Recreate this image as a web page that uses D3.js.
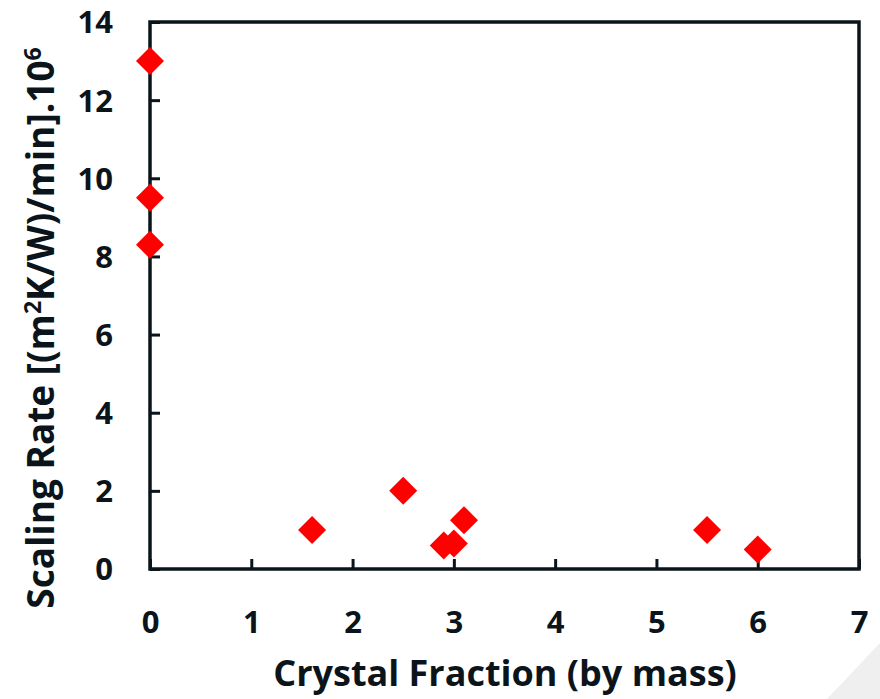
<!DOCTYPE html>
<html>
<head>
<meta charset="utf-8">
<script src="https://cdn.jsdelivr.net/npm/d3@7"></script>
<style>
  html, body { margin: 0; padding: 0; background: #fff; }
  svg text { font-family: "Open Sans", Lato, sans-serif; font-weight: 700; fill: #0b141a; }
</style>
</head>
<body>
<div class="chart"></div>
<script>
// datos
const crystalFraction = [0, 0, 0, 1.6, 2.5, 2.9, 3.0, 3.1, 5.5, 6.0];
const scalingRate = [13, 9.5, 8.3, 1.0, 2.0, 0.6, 0.65, 1.25, 1.0, 0.5];
const xTicks = [0, 1, 2, 3, 4, 5, 6, 7];
const yTicks = [0, 2, 4, 6, 8, 10, 12, 14];

const data = crystalFraction.map((d, i) => ({ x: d, y: scalingRate[i] }));

const W = 880, H = 699;
const margin = { top: 22, right: 21, bottom: 130, left: 150 };
const width = W - margin.left - margin.right;
const height = H - margin.top - margin.bottom;

const svg = d3.select('.chart')
  .append('svg')
  .attr('width', W)
  .attr('height', H);

// triángulo gris del fondo de la diapositiva
svg.append('polygon')
  .attr('points', `827,${H} ${W},643 ${W},${H}`)
  .attr('fill', '#efefef');

const g = svg.append('g')
  .attr('transform', `translate(${margin.left}, ${margin.top})`);

const x = d3.scaleLinear().domain([0, 7]).range([0, width]);
const y = d3.scaleLinear().domain([0, 14]).range([height, 0]);

const axisColor = '#0b141a';
const fmt = d3.format('d');

// ejes con marcas hacia dentro
const xAxis = d3.axisBottom(x)
  .tickValues(xTicks)
  .tickFormat(fmt)
  .tickSize(-10)
  .tickSizeOuter(0);

const yAxis = d3.axisLeft(y)
  .tickValues(yTicks)
  .tickFormat(fmt)
  .tickSize(-10)
  .tickSizeOuter(0);

const gx = g.append('g')
  .attr('class', 'x axis')
  .attr('transform', `translate(0, ${height})`)
  .call(xAxis);

const gy = g.append('g')
  .attr('class', 'y axis')
  .call(yAxis);

[gx, gy].forEach(a => {
  a.select('.domain').remove();
  a.selectAll('line').attr('stroke', axisColor).attr('stroke-width', 3);
  a.selectAll('text').attr('font-size', 31).attr('fill', axisColor);
});
gx.selectAll('text').attr('dy', '0.35em').attr('y', 53);
gy.selectAll('text').attr('x', -37).attr('dy', '0.35em');

// marco
g.append('rect')
  .attr('x', 0).attr('y', 0)
  .attr('width', width).attr('height', height)
  .attr('fill', 'none')
  .attr('stroke', axisColor)
  .attr('stroke-width', 3.5);

// rombos
g.append('g')
  .selectAll('path')
  .data(data)
  .join('path')
  .attr('transform', d => `translate(${x(d.x)}, ${y(d.y)})`)
  .attr('d', 'M0,-14L14,0L0,14L-14,0Z')
  .attr('fill', '#ff0000');

// títulos de los ejes
svg.append('text')
  .attr('x', 505)
  .attr('y', 686)
  .attr('text-anchor', 'middle')
  .attr('font-size', 36)
  .text('Crystal Fraction (by mass)');

const yt = svg.append('text')
  .attr('transform', 'translate(54, 328) rotate(-90)')
  .attr('text-anchor', 'middle')
  .attr('font-size', 37);
yt.append('tspan').text('Scaling Rate [(m');
yt.append('tspan').attr('font-size', 23).attr('dy', -13).text('2');
yt.append('tspan').attr('dy', 13).text('K/W)/min].10');
yt.append('tspan').attr('font-size', 23).attr('dy', -13).text('6');
</script>
</body>
</html>
